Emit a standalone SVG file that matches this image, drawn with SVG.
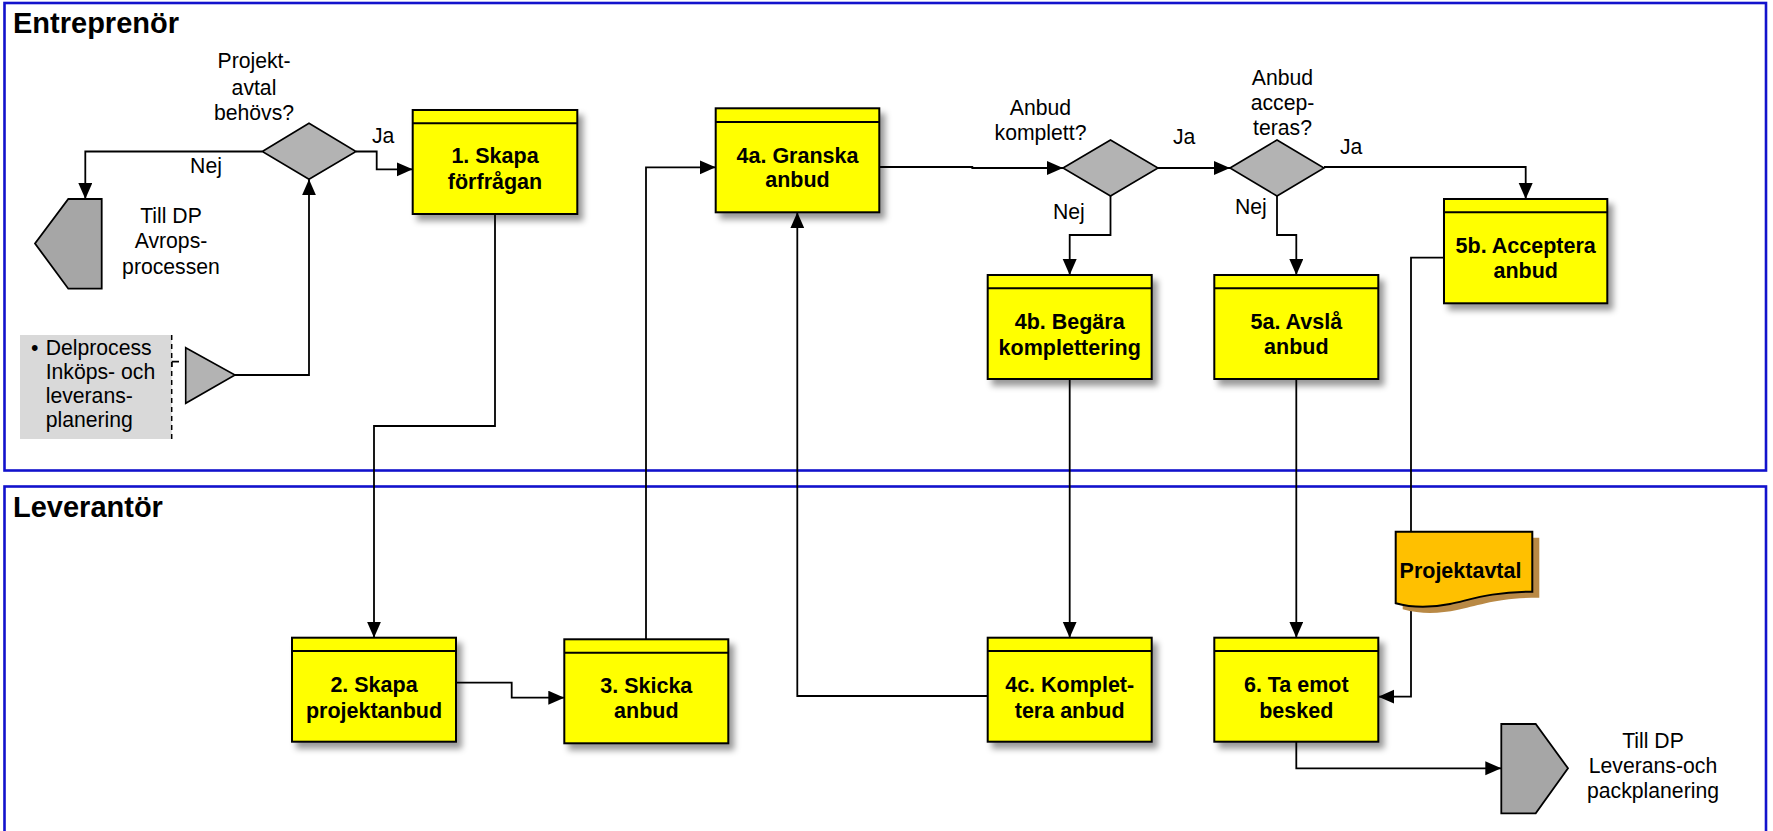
<svg xmlns="http://www.w3.org/2000/svg" width="1773" height="831" viewBox="0 0 1773 831">
<defs>
<style>
.lane{fill:none;stroke:#1212cc;stroke-width:2.6}
.lt{font-family:"Liberation Sans",Arial,sans-serif;font-weight:bold;font-size:29px;fill:#000}
.box{fill:#ffff00;stroke:#000;stroke-width:2}
.hdr{stroke:#000;stroke-width:2;fill:none}
.bt{font-family:"Liberation Sans",Arial,sans-serif;font-weight:bold;font-size:21.5px;fill:#000;text-anchor:middle}
.t{font-family:"Liberation Sans",Arial,sans-serif;font-size:21.2px;fill:#000}
.c{text-anchor:middle}
.dia{fill:#b3b3b3;stroke:#000;stroke-width:1.6}
.off{fill:#a6a6a6;stroke:#000;stroke-width:1.8}
.con{fill:none;stroke:#000;stroke-width:1.8}
.arr{marker-end:url(#ah)}
</style>
<marker id="ah" markerUnits="userSpaceOnUse" markerWidth="17" markerHeight="15" refX="16" refY="7" orient="auto">
<path d="M0,0 L16,7 L0,14 z" fill="#000"/>
</marker>
<filter id="sh" x="-10%" y="-10%" width="130%" height="140%">
<feDropShadow dx="5" dy="6" stdDeviation="3" flood-color="#000" flood-opacity="0.4"/>
</filter>
</defs>
<rect width="1773" height="831" fill="#fff"/>

<g id="lane-entreprenor">
<rect class="lane" x="4.5" y="3" width="1761.5" height="467.5"/>
<text class="lt" x="13" y="33">Entreprenör</text>
</g>
<g id="lane-leverantor">
<rect class="lane" x="4.5" y="486.5" width="1761.5" height="360"/>
<text class="lt" x="13" y="517">Leverantör</text>
</g>

<g id="connectors">
<path class="con arr" d="M262.3,151.5 H85.3 V199"/>
<path class="con arr" d="M356,151.5 H376.7 V169.3 H412.7"/>
<path class="con arr" d="M235,375 H309 V179.3"/>
<path class="con arr" d="M495,214 V426 H374 V637.7"/>
<path class="con arr" d="M456,682.7 H511.7 V697.7 H564.3"/>
<path class="con arr" d="M646,639.3 V167.3 H715.7"/>
<path class="con arr" d="M987.7,696 H797.3 V212.3"/>
<path class="con arr" d="M879.3,167 H972.3 V168 H1063"/>
<path class="con arr" d="M1158,168 H1230"/>
<path class="con arr" d="M1110.5,196 V235 H1069.7 V275"/>
<path class="con arr" d="M1277,196 V235 H1296.3 V275"/>
<path class="con arr" d="M1324,167 H1525.7 V199"/>
<path class="con arr" d="M1069.7,379 V637.7"/>
<path class="con arr" d="M1296.3,379 V637.7"/>
<path class="con" d="M1444,257.7 H1411 V531.7"/>
<path class="con arr" d="M1411,606 V696.7 H1378.3"/>
<path class="con arr" d="M1296.3,741.7 V768.3 H1501.3"/>
<path class="con" d="M171.7,367 V361.7 H179"/>
<text class="t c" x="206" y="173">Nej</text>
<text class="t" x="372" y="143">Ja</text>
<text class="t" x="1173" y="144">Ja</text>
<text class="t" x="1340" y="154">Ja</text>
<text class="t" x="1053" y="219">Nej</text>
<text class="t" x="1235" y="214">Nej</text>
</g>

<g id="d1">
<polygon class="dia" points="262.3,151.5 309,123.3 356,151.5 309,179.3"/>
<text class="t c" x="254" y="68">Projekt-</text>
<text class="t c" x="254" y="95">avtal</text>
<text class="t c" x="254" y="120">behövs?</text>
</g>

<g id="off-avrop">
<polygon class="off" points="101.7,199 68.3,199 35,243.5 68.3,288.7 101.7,288.7"/>
<text class="t c" x="171" y="223">Till DP</text>
<text class="t c" x="171" y="248">Avrops-</text>
<text class="t c" x="171" y="274">processen</text>
</g>

<g id="note-delprocess">
<rect x="20" y="335" width="151.7" height="104" fill="#d9d9d9"/>
<line x1="171.7" y1="335" x2="171.7" y2="439" stroke="#000" stroke-width="1.5" stroke-dasharray="5,4"/>
<text class="t" x="31" y="355">•</text>
<text class="t" x="45.7" y="355">Delprocess</text>
<text class="t" x="45.7" y="379">Inköps- och</text>
<text class="t" x="45.7" y="403">leverans-</text>
<text class="t" x="45.7" y="427">planering</text>
</g>

<g id="off-in">
<polygon class="dia" points="185.7,347.7 235,375 185.7,403.3"/>
</g>

<g id="b1">
<rect class="box" filter="url(#sh)" x="412.7" y="110" width="164.6" height="104"/>
<line class="hdr" x1="412.7" y1="123.3" x2="577.3" y2="123.3"/>
<text class="bt" x="495" y="163.3">1. Skapa</text>
<text class="bt" x="495" y="189.3">förfrågan</text>
</g>

<g id="b4a">
<rect class="box" filter="url(#sh)" x="715.7" y="108.3" width="163.6" height="104"/>
<line class="hdr" x1="715.7" y1="122" x2="879.3" y2="122"/>
<text class="bt" x="797.5" y="162.7">4a. Granska</text>
<text class="bt" x="797.5" y="187.3">anbud</text>
</g>

<g id="d2">
<polygon class="dia" points="1063,168 1110.5,140 1158,168 1110.5,196"/>
<text class="t c" x="1040.5" y="115">Anbud</text>
<text class="t c" x="1040.5" y="140">komplett?</text>
</g>

<g id="d3">
<polygon class="dia" points="1230,168 1277,140 1324,168 1277,196"/>
<text class="t c" x="1282.5" y="85">Anbud</text>
<text class="t c" x="1282.5" y="110">accep-</text>
<text class="t c" x="1282.5" y="135">teras?</text>
</g>

<g id="b4b">
<rect class="box" filter="url(#sh)" x="987.7" y="275" width="164" height="104"/>
<line class="hdr" x1="987.7" y1="288.3" x2="1151.7" y2="288.3"/>
<text class="bt" x="1069.7" y="329.3">4b. Begära</text>
<text class="bt" x="1069.7" y="355">komplettering</text>
</g>

<g id="b5a">
<rect class="box" filter="url(#sh)" x="1214.3" y="275" width="164" height="104"/>
<line class="hdr" x1="1214.3" y1="288.3" x2="1378.3" y2="288.3"/>
<text class="bt" x="1296.3" y="329.3">5a. Avslå</text>
<text class="bt" x="1296.3" y="354.3">anbud</text>
</g>

<g id="b5b">
<rect class="box" filter="url(#sh)" x="1444" y="199" width="163.3" height="104.3"/>
<line class="hdr" x1="1444" y1="212.3" x2="1607.3" y2="212.3"/>
<text class="bt" x="1525.7" y="253.3">5b. Acceptera</text>
<text class="bt" x="1525.7" y="278.3">anbud</text>
</g>

<g id="b2">
<rect class="box" filter="url(#sh)" x="292" y="637.7" width="164" height="104"/>
<line class="hdr" x1="292" y1="651" x2="456" y2="651"/>
<text class="bt" x="374" y="691.7">2. Skapa</text>
<text class="bt" x="374" y="717.7">projektanbud</text>
</g>

<g id="b3">
<rect class="box" filter="url(#sh)" x="564.3" y="639.3" width="164" height="104"/>
<line class="hdr" x1="564.3" y1="652.7" x2="728.3" y2="652.7"/>
<text class="bt" x="646.3" y="693.3">3. Skicka</text>
<text class="bt" x="646.3" y="718.3">anbud</text>
</g>

<g id="b4c">
<rect class="box" filter="url(#sh)" x="987.7" y="637.7" width="164" height="104"/>
<line class="hdr" x1="987.7" y1="651" x2="1151.7" y2="651"/>
<text class="bt" x="1069.7" y="691.7">4c. Komplet-</text>
<text class="bt" x="1069.7" y="717.7">tera anbud</text>
</g>

<g id="b6">
<rect class="box" filter="url(#sh)" x="1214.3" y="637.7" width="164" height="104"/>
<line class="hdr" x1="1214.3" y1="651" x2="1378.3" y2="651"/>
<text class="bt" x="1296.3" y="691.7">6. Ta emot</text>
<text class="bt" x="1296.3" y="717.7">besked</text>
</g>

<g id="doc-projektavtal">
<path fill="#b98945" d="M1402.7,537.7 H1539.3 V597.7 C1497,597.7 1477,606 1457,610 C1442,613 1423,615 1402.7,609.3 Z"/>
<path fill="#ffc000" stroke="#000" stroke-width="2" d="M1395.7,531.7 H1532.3 V591.7 C1490,591.7 1470,600 1450,604 C1435,607 1416,609 1395.7,603.3 Z"/>
<text class="bt" x="1460.5" y="577.7">Projektavtal</text>
</g>

<g id="off-leverans">
<polygon class="off" points="1501.3,724 1535.7,724 1568,768.3 1535.7,813.3 1501.3,813.3"/>
<text class="t c" x="1653" y="748.3">Till DP</text>
<text class="t c" x="1653" y="773.3">Leverans-och</text>
<text class="t c" x="1653" y="798.3">packplanering</text>
</g>
</svg>
